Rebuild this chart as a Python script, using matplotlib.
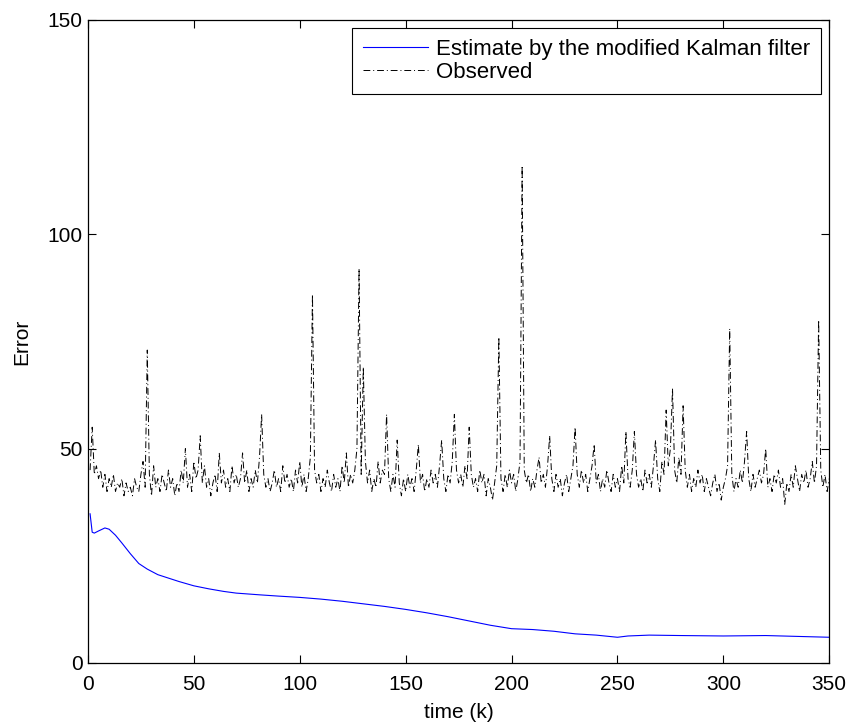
import matplotlib
matplotlib.use("Agg")
import matplotlib.pyplot as plt
import numpy as np

# Estimate by the modified Kalman filter (read off at sample times)
est_t = [1, 2, 3, 5, 8, 10, 13, 16, 20, 24, 28, 33, 38, 43, 50, 57, 64, 70,
         81, 90, 100, 110, 120, 130, 140, 150, 160, 170, 180, 190, 200, 210,
         220, 230, 240, 250, 255, 265, 280, 300, 320, 335, 350]
est_v = [34.8, 30.5, 30.3, 30.8, 31.5, 31.2, 29.8, 28.0, 25.5, 23.2, 21.9,
         20.6, 19.8, 19.0, 18.0, 17.3, 16.7, 16.3, 15.9, 15.6, 15.3, 14.9,
         14.4, 13.8, 13.2, 12.5, 11.7, 10.8, 9.8, 8.8, 8.0, 7.8, 7.4, 6.8,
         6.5, 6.0, 6.3, 6.5, 6.4, 6.3, 6.4, 6.2, 6.0]

# Observed error, t = 1..350
obs_v = [
    45, 55, 44, 46, 43, 45, 41, 44, 40, 43, 41, 44, 40, 42, 41, 43, 39, 42, 40, 41, 39, 43, 41, 40, 44,
    47, 41, 73, 44, 39, 46, 41, 43, 40, 44, 42, 40, 45, 41, 43, 39, 42, 40, 45, 42, 50, 41, 44, 40, 47,
    43, 45, 53, 42, 46, 41, 43, 39, 42, 44, 40, 49, 42, 45, 41, 43, 40, 46, 42, 44, 41, 43, 49, 42, 45,
    40, 43, 41, 45, 42, 48, 58, 44, 41, 43, 40, 42, 45, 41, 43, 40, 46, 42, 44, 41, 43, 40, 45, 42, 47,
    41, 44, 40, 43, 48, 86, 45, 42, 44, 40, 43, 41, 45, 42, 40, 44, 41, 43, 40, 46, 42, 49, 41, 44, 42,
    45, 50, 92, 44, 69, 47, 42, 45, 40, 43, 41, 47, 42, 45, 44, 58, 43, 40, 44, 41, 52, 42, 39, 43, 40,
    44, 41, 43, 40, 45, 51, 42, 44, 40, 43, 41, 45, 42, 44, 41, 46, 52, 43, 40, 44, 42, 47, 58, 45, 42,
    44, 41, 46, 43, 55, 44, 41, 43, 40, 45, 42, 44, 39, 43, 41, 38, 42, 46, 76, 43, 40, 44, 41, 45, 42,
    44, 40, 43, 47, 116, 45, 42, 44, 40, 43, 41, 45, 48, 42, 44, 41, 46, 53, 43, 40, 44, 41, 43, 39, 42,
    44, 40, 43, 46, 55, 44, 41, 45, 42, 44, 40, 43, 46, 51, 42, 44, 40, 43, 41, 45, 42, 40, 44, 41, 43,
    40, 46, 42, 54, 43, 41, 45, 54, 44, 41, 43, 40, 45, 42, 44, 41, 46, 52, 43, 40, 47, 44, 59, 46, 50,
    64, 45, 42, 48, 44, 60, 45, 41, 44, 40, 43, 41, 45, 42, 44, 40, 43, 41, 39, 42, 44, 40, 42, 38, 41,
    43, 46, 78, 44, 40, 43, 41, 45, 42, 47, 54, 43, 40, 44, 41, 43, 45, 42, 44, 50, 41, 43, 40, 44, 42,
    45, 41, 43, 37, 42, 40, 44, 41, 46, 43, 40, 44, 42, 45, 41, 43, 47, 42, 46, 80, 45, 41, 44, 40, 43,
]
obs_t = list(range(1, len(obs_v) + 1))

plt.rcParams['font.family'] = ['Liberation Sans', 'DejaVu Sans']
plt.rcParams['font.size'] = 15

fig = plt.figure(figsize=(8.54, 7.26), dpi=100)
ax = fig.add_axes([0.103, 0.0868, 0.868, 0.8857])

ax.plot(est_t, est_v, color=(0, 0, 1), lw=0.8,
        label="Estimate by the modified Kalman filter")
ax.plot(obs_t, obs_v, color='black', lw=0.7, linestyle=(0, (7, 3, 1, 3)),
        label="Observed")

ax.set_xlim(0, 350)
ax.set_ylim(0, 150)
ax.set_xticks(range(0, 351, 50))
ax.set_yticks([0, 50, 100, 150])
ax.tick_params(direction='in', top=True, right=True, length=6, width=0.8,
               labelsize=15)
ax.tick_params(axis='x', pad=8.5)
ax.tick_params(axis='y', pad=4)
for s in ax.spines.values():
    s.set_linewidth(0.9)
ax.set_xlabel("time (k)", fontsize=15, labelpad=6.5)
ax.set_ylabel("Error", fontsize=15, labelpad=11.5)

leg = ax.legend(loc='upper right', fontsize=16, fancybox=False,
                edgecolor='black', framealpha=1, handlelength=2.95,
                borderaxespad=0.35, borderpad=0.5, labelspacing=0.1,
                handletextpad=0.36)
leg.get_frame().set_linewidth(0.8)

fig.savefig("out.png", dpi=100)
